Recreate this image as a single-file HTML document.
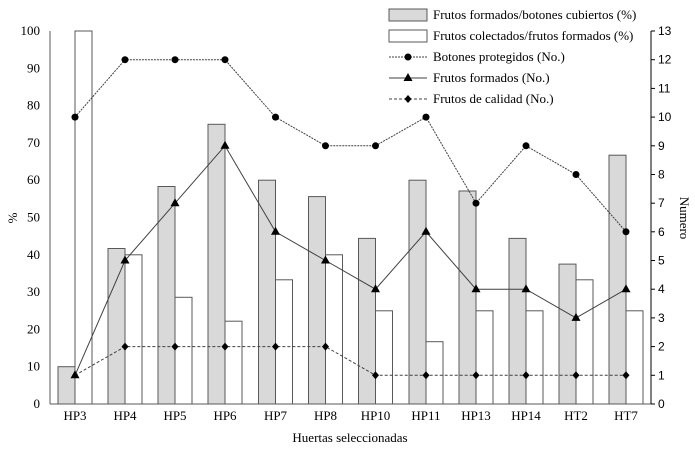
<!DOCTYPE html><html><head><style>body{margin:0;background:#fff}svg text{font-family:"Liberation Serif",serif;font-size:13px;fill:#000}svg text.r{font-family:"Liberation Sans",sans-serif;font-size:12px}</style></head><body>
<svg width="695" height="458" xmlns="http://www.w3.org/2000/svg">
<g fill="#d9d9d9" stroke="#595959" stroke-width="1">
<rect x="58" y="366.7" width="17" height="37.3"/>
<rect x="108" y="248.5" width="17" height="155.5"/>
<rect x="158" y="186.5" width="17" height="217.5"/>
<rect x="208" y="124.3" width="17" height="279.7"/>
<rect x="258.5" y="180.2" width="17" height="223.8"/>
<rect x="308.5" y="196.6" width="17" height="207.4"/>
<rect x="358.5" y="238.4" width="17" height="165.6"/>
<rect x="409" y="180.2" width="17" height="223.8"/>
<rect x="459" y="191" width="17" height="213"/>
<rect x="509" y="238.4" width="17" height="165.6"/>
<rect x="559" y="264.1" width="17" height="139.9"/>
<rect x="609" y="155.2" width="17" height="248.8"/>
</g>
<g fill="#fff" stroke="#595959" stroke-width="1">
<rect x="75" y="31" width="17" height="373"/>
<rect x="125" y="254.8" width="17" height="149.2"/>
<rect x="175" y="297.3" width="17" height="106.7"/>
<rect x="225" y="321.2" width="17" height="82.8"/>
<rect x="275.5" y="279.8" width="17" height="124.2"/>
<rect x="325.5" y="254.8" width="17" height="149.2"/>
<rect x="375.5" y="310.8" width="17" height="93.2"/>
<rect x="426" y="341.7" width="17" height="62.3"/>
<rect x="476" y="310.8" width="17" height="93.2"/>
<rect x="526" y="310.8" width="17" height="93.2"/>
<rect x="576" y="279.8" width="17" height="124.2"/>
<rect x="626" y="310.8" width="17" height="93.2"/>
</g>
<polyline points="75,117.1 125,59.7 175,59.7 225,59.7 275.5,117.1 325.5,145.8 375.5,145.8 426,117.1 476,203.2 526,145.8 576,174.5 626,231.8" fill="none" stroke="#404040" stroke-dasharray="2,1"/>
<polyline points="75,375.3 125,260.5 175,203.2 225,145.8 275.5,231.8 325.5,260.5 375.5,289.2 426,231.8 476,289.2 526,289.2 576,317.9 626,289.2" fill="none" stroke="#404040"/>
<polyline points="75,375.3 125,346.6 175,346.6 225,346.6 275.5,346.6 325.5,346.6 375.5,375.3 426,375.3 476,375.3 526,375.3 576,375.3 626,375.3" fill="none" stroke="#404040" stroke-dasharray="3,2"/>
<g fill="#000">
<circle cx="75" cy="117.1" r="3.5"/><circle cx="125" cy="59.7" r="3.5"/><circle cx="175" cy="59.7" r="3.5"/><circle cx="225" cy="59.7" r="3.5"/><circle cx="275.5" cy="117.1" r="3.5"/><circle cx="325.5" cy="145.8" r="3.5"/><circle cx="375.5" cy="145.8" r="3.5"/><circle cx="426" cy="117.1" r="3.5"/><circle cx="476" cy="203.2" r="3.5"/><circle cx="526" cy="145.8" r="3.5"/><circle cx="576" cy="174.5" r="3.5"/><circle cx="626" cy="231.8" r="3.5"/>
<polygon points="75,370.3 70.5,378.3 79.5,378.3"/><polygon points="125,255.5 120.5,263.5 129.5,263.5"/><polygon points="175,198.2 170.5,206.2 179.5,206.2"/><polygon points="225,140.8 220.5,148.8 229.5,148.8"/><polygon points="275.5,226.8 271,234.8 280,234.8"/><polygon points="325.5,255.5 321,263.5 330,263.5"/><polygon points="375.5,284.2 371,292.2 380,292.2"/><polygon points="426,226.8 421.5,234.8 430.5,234.8"/><polygon points="476,284.2 471.5,292.2 480.5,292.2"/><polygon points="526,284.2 521.5,292.2 530.5,292.2"/><polygon points="576,312.9 571.5,320.9 580.5,320.9"/><polygon points="626,284.2 621.5,292.2 630.5,292.2"/>
<polygon points="125,342.6 128.5,346.6 125,350.6 121.5,346.6"/><polygon points="175,342.6 178.5,346.6 175,350.6 171.5,346.6"/><polygon points="225,342.6 228.5,346.6 225,350.6 221.5,346.6"/><polygon points="275.5,342.6 279,346.6 275.5,350.6 272,346.6"/><polygon points="325.5,342.6 329,346.6 325.5,350.6 322,346.6"/><polygon points="375.5,371.3 379,375.3 375.5,379.3 372,375.3"/><polygon points="426,371.3 429.5,375.3 426,379.3 422.5,375.3"/><polygon points="476,371.3 479.5,375.3 476,379.3 472.5,375.3"/><polygon points="526,371.3 529.5,375.3 526,379.3 522.5,375.3"/><polygon points="576,371.3 579.5,375.3 576,379.3 572.5,375.3"/><polygon points="626,371.3 629.5,375.3 626,379.3 622.5,375.3"/>
</g>
<line x1="50" y1="31" x2="50" y2="404" stroke="#595959"/><line x1="50" y1="404" x2="651" y2="404" stroke="#595959"/><line x1="651" y1="31" x2="651" y2="404" stroke="#000"/>
<g text-anchor="end">
<text x="40" y="408">0</text><text x="40" y="370.7">10</text><text x="40" y="333.4">20</text><text x="40" y="296.1">30</text><text x="40" y="258.8">40</text><text x="40" y="221.5">50</text><text x="40" y="184.2">60</text><text x="40" y="146.9">70</text><text x="40" y="109.6">80</text><text x="40" y="72.3">90</text><text x="40" y="35">100</text>
</g>
<g stroke="#000">
<line x1="651" y1="404" x2="655" y2="404"/><line x1="651" y1="375.3" x2="655" y2="375.3"/><line x1="651" y1="346.6" x2="655" y2="346.6"/><line x1="651" y1="317.9" x2="655" y2="317.9"/><line x1="651" y1="289.2" x2="655" y2="289.2"/><line x1="651" y1="260.5" x2="655" y2="260.5"/><line x1="651" y1="231.8" x2="655" y2="231.8"/><line x1="651" y1="203.2" x2="655" y2="203.2"/><line x1="651" y1="174.5" x2="655" y2="174.5"/><line x1="651" y1="145.8" x2="655" y2="145.8"/><line x1="651" y1="117.1" x2="655" y2="117.1"/><line x1="651" y1="88.4" x2="655" y2="88.4"/><line x1="651" y1="59.7" x2="655" y2="59.7"/><line x1="651" y1="31" x2="655" y2="31"/>
</g>
<g>
<text class="r" x="658" y="408">0</text><text class="r" x="658" y="379.3">1</text><text class="r" x="658" y="350.6">2</text><text class="r" x="658" y="321.9">3</text><text class="r" x="658" y="293.2">4</text><text class="r" x="658" y="264.5">5</text><text class="r" x="658" y="235.8">6</text><text class="r" x="658" y="207.2">7</text><text class="r" x="658" y="178.5">8</text><text class="r" x="658" y="149.8">9</text><text class="r" x="658" y="121.1">10</text><text class="r" x="658" y="92.4">11</text><text class="r" x="658" y="63.7">12</text><text class="r" x="658" y="35">13</text>
</g>
<g text-anchor="middle">
<text x="75" y="420">HP3</text><text x="125" y="420">HP4</text><text x="175" y="420">HP5</text><text x="225" y="420">HP6</text><text x="275.5" y="420">HP7</text><text x="325.5" y="420">HP8</text><text x="375.5" y="420">HP10</text><text x="426" y="420">HP11</text><text x="476" y="420">HP13</text><text x="526" y="420">HP14</text><text x="576" y="420">HT2</text><text x="626" y="420">HT7</text>
<text x="350" y="442">Huertas seleccionadas</text>
<text transform="translate(17,218) rotate(-90)">%</text>
<text transform="translate(680,218) rotate(90)">Numero</text>
</g>
<rect x="389" y="9" width="38" height="12" fill="#d9d9d9" stroke="#595959"/>
<rect x="389" y="30" width="38" height="12" fill="#fff" stroke="#595959"/>
<line x1="389" y1="57" x2="427" y2="57" stroke="#404040" stroke-dasharray="2,1"/><circle cx="408" cy="57" r="3.5"/>
<line x1="389" y1="78" x2="427" y2="78" stroke="#404040"/><polygon points="408,73 403.5,81 412.5,81"/>
<line x1="389" y1="99" x2="427" y2="99" stroke="#404040" stroke-dasharray="3,2"/><polygon points="408,95 411.5,99 408,103 404.5,99"/>
<text x="433" y="19">Frutos formados/botones cubiertos (%)</text>
<text x="433" y="40">Frutos colectados/frutos formados (%)</text>
<text x="433" y="61">Botones protegidos (No.)</text>
<text x="433" y="82">Frutos formados (No.)</text>
<text x="433" y="103">Frutos de calidad (No.)</text>
</svg></body></html>
